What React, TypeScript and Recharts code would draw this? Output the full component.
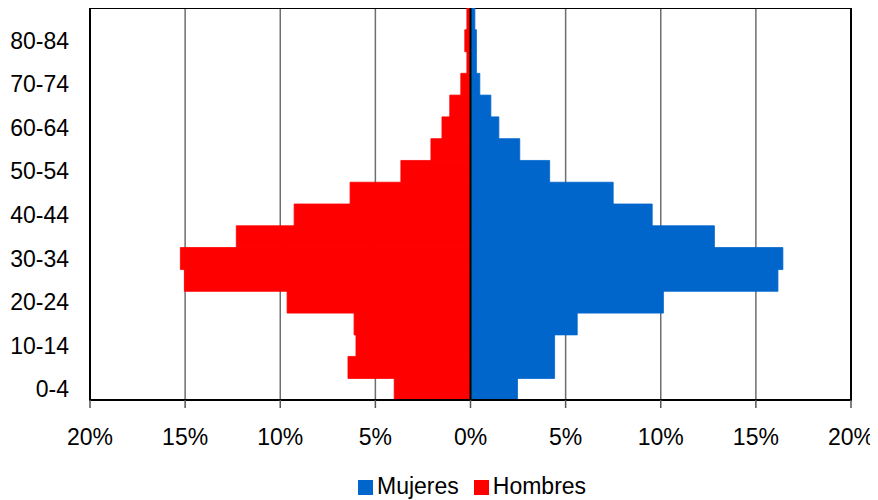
import React from 'react';
import { BarChart, Bar, XAxis, YAxis, CartesianGrid, ReferenceLine, ReferenceArea, Legend } from 'recharts';

const ages = ['0-4','5-9','10-14','15-19','20-24','25-29','30-34','35-39','40-44','45-49','50-54','55-59','60-64','65-69','70-74','75-79','80-84','85+'];
const hombres = [4.01, 6.44, 6.02, 6.12, 9.64, 15.04, 15.25, 12.31, 9.27, 6.33, 3.66, 2.08, 1.5, 1.09, 0.51, 0.19, 0.3, 0.19];
const mujeres = [2.47, 4.42, 4.42, 5.61, 10.14, 16.16, 16.42, 12.82, 9.55, 7.5, 4.16, 2.59, 1.49, 1.07, 0.49, 0.31, 0.31, 0.23];
const xTicks = [-20, -15, -10, -5, 0, 5, 10, 15, 20];
const legendOrder = ['Mujeres', 'Hombres'];

const data = ages.map((age, i) => ({ age, Mujeres: mujeres[i], Hombres: -hombres[i] }));

const FONT = '"Liberation Sans", Arial, sans-serif';

export default function App() {
  return (
    <div style={{ marginTop: -40, fontFamily: FONT }}>
      <BarChart
        width={870}
        height={532}
        data={data}
        layout="vertical"
        stackOffset="sign"
        barCategoryGap={0}
        margin={{ top: 40, right: 27, bottom: 0, left: 0 }}
      >
        <text x={765} y={33} textAnchor="end" fontFamily={FONT} fontSize={24} fontWeight="bold" fill="#000">
          Pirámide de Población (Total de residentes)
        </text>
        <CartesianGrid horizontal={false} stroke="#6e6e6e" strokeWidth={1.5} />
        <XAxis
          type="number"
          domain={[-20, 20]}
          ticks={xTicks}
          tickFormatter={(v: number) => `${Math.abs(v)}%`}
          tick={{ fill: '#000', fontSize: 23, fontFamily: FONT }}
          tickLine={{ stroke: '#555', strokeWidth: 1.5 }}
          tickSize={8}
          tickMargin={21}
          axisLine={{ stroke: '#000', strokeWidth: 2 }}
          height={73}
          allowDataOverflow
        />
        <YAxis
          type="category"
          dataKey="age"
          reversed
          interval={1}
          width={82}
          tickSize={0}
          tickMargin={21}
          tickLine={false}
          tick={{ fill: '#000', fontSize: 23, fontFamily: FONT }}
          axisLine={{ stroke: '#000', strokeWidth: 2 }}
        />
        <Bar dataKey="Mujeres" stackId="a" fill="#0066CC" stroke="#0066CC" strokeWidth={0.8} isAnimationActive={false} />
        <Bar dataKey="Hombres" stackId="a" fill="#FF0000" stroke="#FF0000" strokeWidth={0.8} isAnimationActive={false} />
        <ReferenceLine x={0} stroke="#000" strokeWidth={2} />
        <ReferenceArea x1={-20} x2={20} fill="none" fillOpacity={0} stroke="#000" strokeWidth={2} ifOverflow="visible" />
        <Legend
          verticalAlign="bottom"
          align="left"
          iconType="square"
          iconSize={15}
          itemSorter={(item: any) => legendOrder.indexOf(item.value)}
          wrapperStyle={{ left: 350, width: 320, fontSize: 23, fontFamily: FONT }}
          formatter={(v: string) => <span style={{ color: '#000', paddingRight: 5 }}>{v}</span>}
        />
      </BarChart>
    </div>
  );
}
